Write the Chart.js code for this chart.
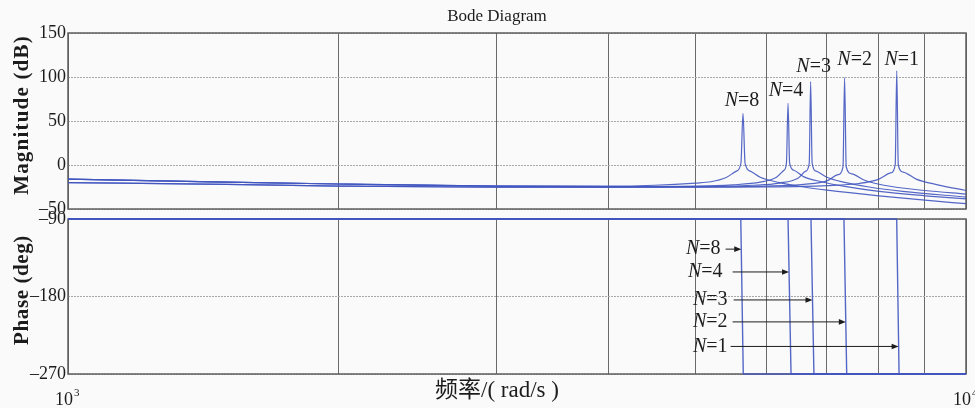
<!DOCTYPE html>
<html>
<head>
<meta charset="utf-8">
<script src="https://cdn.jsdelivr.net/npm/chart.js@4.4.0/dist/chart.umd.min.js"></script>
<style>
  html, body { margin: 0; padding: 0; background: #fafafa; }
  #wrap { position: relative; width: 975px; height: 408px; overflow: hidden; }
  #wrap canvas { position: absolute; left: 0; top: 0; }
</style>
</head>
<body>
<div id="wrap">
  <canvas id="mag" width="975" height="408"></canvas>
  <canvas id="phase" width="975" height="408"></canvas>
</div>
<script>
// ---- series names ----
const seriesNames = ['N=8', 'N=4', 'N=3', 'N=2', 'N=1'];

// ---- magnitude (dB) vs frequency (rad/s) ----
const magFreqN8 = [1000, 1500, 2000, 3000, 4000, 4500, 5000, 5200, 5400, 5550, 5615, 5645, 5675, 5750, 5900, 6200, 6600, 7000, 8000, 9000, 10000];
const magN8     = [-16, -19.5, -21.6, -23.9, -24, -23, -20.5, -19, -14.5, -7, 2, 58.7, 2, -7, -14, -20, -25, -28.5, -35, -40, -44];

const magFreqN4 = [1000, 1500, 2000, 3000, 4000, 5000, 5500, 5900, 6150, 6270, 6310, 6336, 6362, 6430, 6600, 6900, 7300, 8000, 9000, 10000];
const magN4     = [-16, -19.5, -21.6, -23.9, -24.5, -24, -22.5, -19.5, -14, -6, 2, 70, 2, -6, -13.5, -19, -24, -30, -35, -38.6];

const magFreqN3 = [1000, 1500, 2000, 3000, 4000, 5000, 5800, 6200, 6500, 6630, 6690, 6714, 6740, 6810, 7000, 7300, 7800, 8500, 10000];
const magN3     = [-16, -19.5, -21.6, -23.9, -24.5, -24.5, -23, -20.5, -15, -7, 2, 94.7, 2, -7, -14, -19.5, -25, -30, -36.4];

const magFreqN2 = [1000, 1500, 2000, 3000, 4000, 5000, 6000, 6600, 7000, 7200, 7295, 7325, 7355, 7460, 7700, 8100, 9000, 10000];
const magN2     = [-20, -22, -23.9, -25.3, -25.3, -25, -24, -22, -18, -11, -2, 99.2, -2, -10, -17, -23, -29, -33];

const magFreqN1 = [1000, 1500, 2000, 3000, 4000, 5000, 6000, 7000, 7600, 8000, 8240, 8340, 8373, 8406, 8510, 8800, 9300, 10000];
const magN1     = [-20, -22, -23.9, -25.3, -25.3, -25.3, -25, -23.5, -21, -16, -9, 0, 107, 0, -8, -16, -22.5, -29];

// ---- phase (deg) vs frequency (rad/s) ----
const phaseDeg    = [-90, -90, -270, -270];
const phaseFreqN8 = [1000, 5613, 5649, 10000];
const phaseFreqN4 = [1000, 6336, 6385, 10000];
const phaseFreqN3 = [1000, 6720, 6771, 10000];
const phaseFreqN2 = [1000, 7313, 7365, 10000];
const phaseFreqN1 = [1000, 8372, 8423, 10000];

// ---- axis ticks ----
const freqGrid   = [1000, 2000, 3000, 4000, 5000, 6000, 7000, 8000, 9000, 10000];
const magTicks   = [150, 100, 50, 0, -50];
const phaseTicks = [-90, -180, -270];
const decadeExps = [3, 4];

// ---- text ----
const titleText  = 'Bode Diagram';
const magTitle   = 'Magnitude (dB)';
const phaseTitle = 'Phase (deg)';
const xTitle     = '频率/( rad/s )';

// ---- look ----
const LINE = 'rgba(66, 86, 192, 0.9)';
const SERIF = '"Liberation Serif", "Times New Roman", serif';

const magSets   = [[magFreqN8, magN8], [magFreqN4, magN4], [magFreqN3, magN3], [magFreqN2, magN2], [magFreqN1, magN1]];
const phaseSets = [phaseFreqN8, phaseFreqN4, phaseFreqN3, phaseFreqN2, phaseFreqN1];

// label placement next to each resonance (pixel offsets from the peak point)
const peakLabelOffsets = [[-1, -13], [-2, -13], [3, -15], [10, -18], [5, -11]];
// arrows in the phase panel: phase level of the arrow and left edge of its label
const phaseArrows = [
  { phase: -125, left: 686, gap: 5 },
  { phase: -151.5, left: 688, gap: 10 },
  { phase: -184, left: 693, gap: 6 },
  { phase: -209.5, left: 693, gap: 5 },
  { phase: -238, left: 693, gap: 3 }
];

function toPoints(xs, ys) { return xs.map((x, i) => ({ x: x, y: ys[i] })); }
const minus = v => String(v).replace('-', '\u2013');

function drawNLabel(ctx, name, x, y, align) {
  // italic "N" followed by upright "=k"
  const rest = name.slice(1);
  ctx.font = 'italic 20px ' + SERIF;
  const wN = ctx.measureText('N').width;
  ctx.font = '20px ' + SERIF;
  const wR = ctx.measureText(rest).width;
  const left = align === 'center' ? x - (wN + wR) / 2 : x;
  ctx.textAlign = 'left';
  ctx.textBaseline = 'middle';
  ctx.font = 'italic 20px ' + SERIF;
  ctx.fillText('N', left, y);
  ctx.font = '20px ' + SERIF;
  ctx.fillText(rest, left + wN, y);
  return left + wN + wR;
}

function drawVerticalTitle(ctx, text, cx, cy, spacing) {
  ctx.save();
  ctx.translate(cx, cy);
  ctx.rotate(-Math.PI / 2);
  ctx.font = 'bold 21px ' + SERIF;
  ctx.letterSpacing = spacing;
  ctx.textAlign = 'center';
  ctx.textBaseline = 'middle';
  ctx.fillText(text, 0, 0);
  ctx.restore();
}

// frame around each plotting box
const framePlugin = {
  id: 'frame',
  beforeDatasetsDraw(chart) {
    const { ctx, chartArea: a } = chart;
    ctx.save();
    ctx.strokeStyle = '#5e5e5e';
    ctx.lineWidth = 1.5;
    ctx.strokeRect(a.left, a.top, a.right - a.left, a.bottom - a.top);
    ctx.restore();
  }
};

const magTextPlugin = {
  id: 'magText',
  afterDraw(chart) {
    const { ctx, scales } = chart;
    ctx.save();
    ctx.fillStyle = '#1c1c1c';
    // title
    ctx.font = '17px ' + SERIF;
    ctx.textAlign = 'center';
    ctx.textBaseline = 'middle';
    ctx.fillText(titleText, 497, 17);
    // y title
    drawVerticalTitle(ctx, magTitle, 23, 115, '1.2px');
    // resonance labels
    magSets.forEach(([fs, ms], i) => {
      let k = 0;
      ms.forEach((v, j) => { if (v > ms[k]) k = j; });
      const px = scales.x.getPixelForValue(fs[k]);
      const py = scales.y.getPixelForValue(ms[k]);
      const [dx, dy] = peakLabelOffsets[i];
      drawNLabel(ctx, seriesNames[i], px + dx, py + dy, 'center');
    });
    ctx.restore();
  }
};

const phaseTextPlugin = {
  id: 'phaseText',
  afterDraw(chart) {
    const { ctx, scales } = chart;
    ctx.save();
    ctx.fillStyle = '#1c1c1c';
    ctx.strokeStyle = '#1c1c1c';
    // y title
    drawVerticalTitle(ctx, phaseTitle, 23, 290, '0.6px');
    // x title
    ctx.font = '23px "Liberation Serif", "Noto Sans CJK SC", serif';
    ctx.textAlign = 'center';
    ctx.textBaseline = 'middle';
    ctx.fillText(xTitle, 497, 391);
    // decade labels 10^3, 10^4
    decadeExps.forEach(e => {
      const x = scales.x.getPixelForValue(Math.pow(10, e));
      ctx.font = '18px ' + SERIF;
      ctx.textAlign = 'right';
      ctx.textBaseline = 'alphabetic';
      ctx.fillText('10', x + 5, 405);
      ctx.font = '11px ' + SERIF;
      ctx.textAlign = 'left';
      ctx.fillText(String(e), x + 6, 396);
    });
    // arrows pointing at each phase drop
    phaseArrows.forEach((ar, i) => {
      const fs = phaseSets[i];
      const y = scales.y.getPixelForValue(ar.phase);
      const xTop = scales.x.getPixelForValue(fs[1]);
      const xBot = scales.x.getPixelForValue(fs[2]);
      const tip = xTop + (xBot - xTop) * (ar.phase - phaseDeg[1]) / (phaseDeg[2] - phaseDeg[1]);
      const end = drawNLabel(ctx, seriesNames[i], ar.left, y, 'left');
      const start = end + ar.gap;
      ctx.lineWidth = 1;
      ctx.beginPath();
      ctx.moveTo(start, y);
      ctx.lineTo(tip - 5, y);
      ctx.stroke();
      ctx.beginPath();
      ctx.moveTo(tip, y);
      ctx.lineTo(tip - 7, y - 2.8);
      ctx.lineTo(tip - 7, y + 2.8);
      ctx.closePath();
      ctx.fill();
    });
    ctx.restore();
  }
};

function xScale() {
  return {
    type: 'logarithmic',
    min: 1000,
    max: 10000,
    afterBuildTicks: s => { s.ticks = freqGrid.map(v => ({ value: v })); },
    ticks: { display: false },
    grid: { color: '#6a6a6a', lineWidth: 1, drawTicks: false },
    border: { display: false },
    afterFit: s => { s.height = 0; }
  };
}

function yScale(min, max, ticks) {
  return {
    min: min,
    max: max,
    afterBuildTicks: s => { s.ticks = ticks.map(v => ({ value: v })); },
    ticks: {
      color: '#1c1c1c',
      padding: 2,
      font: { family: SERIF, size: 18 },
      callback: v => minus(v)
    },
    grid: { color: '#a8a8a8', lineWidth: 1, drawTicks: false },
    border: { display: false, dash: [2, 1] },
    afterFit: s => { s.width = 68; }
  };
}

const common = {
  responsive: false,
  animation: false,
  events: [],
  plugins: { legend: { display: false }, tooltip: { enabled: false } }
};

new Chart(document.getElementById('mag'), {
  type: 'line',
  data: {
    datasets: magSets.map(([fs, ms], i) => ({
      label: seriesNames[i],
      data: toPoints(fs, ms),
      borderColor: LINE,
      borderWidth: 1.2,
      pointRadius: 0,
      cubicInterpolationMode: 'monotone'
    }))
  },
  options: Object.assign({}, common, {
    layout: { padding: { left: 0, right: 9, top: 33, bottom: 199 } },
    scales: { x: xScale(), y: yScale(-50, 150, magTicks) }
  }),
  plugins: [framePlugin, magTextPlugin]
});

new Chart(document.getElementById('phase'), {
  type: 'line',
  data: {
    datasets: phaseSets.map((fs, i) => ({
      label: seriesNames[i],
      data: toPoints(fs, phaseDeg),
      borderColor: LINE,
      borderWidth: 1.4,
      pointRadius: 0,
      clip: 3
    }))
  },
  options: Object.assign({}, common, {
    layout: { padding: { left: 0, right: 9, top: 219, bottom: 34 } },
    scales: { x: xScale(), y: yScale(-270, -90, phaseTicks) }
  }),
  plugins: [framePlugin, phaseTextPlugin]
});
</script>
</body>
</html>
